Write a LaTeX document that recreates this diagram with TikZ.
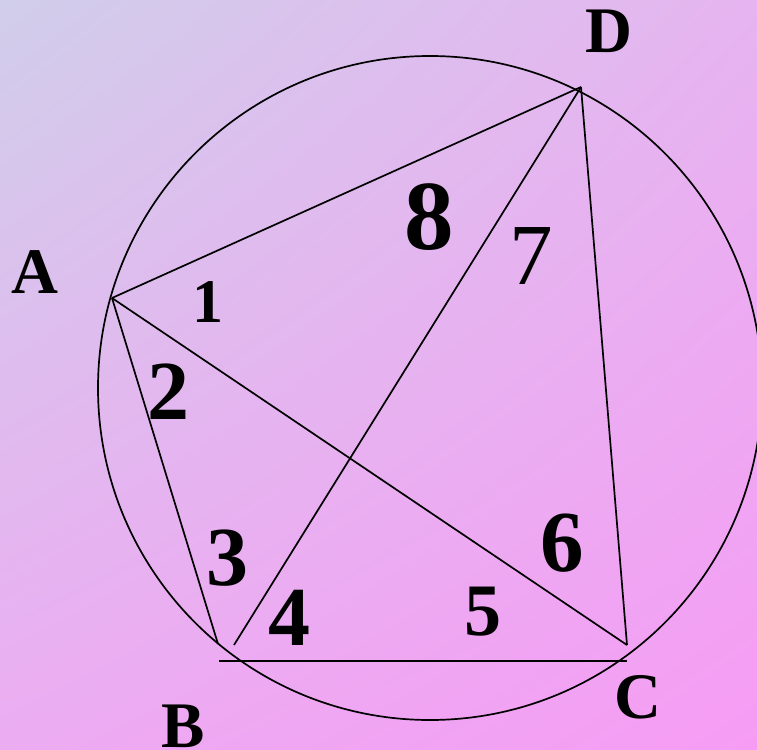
\documentclass[tikz,border=0pt]{standalone}
\usepackage{fontspec}
\setmainfont{Liberation Serif}
\usetikzlibrary{shadings}
\definecolor{bgUL}{RGB}{208,206,234}
\definecolor{bgUR}{RGB}{230,180,240}
\definecolor{bgLL}{RGB}{236,172,242}
\definecolor{bgLR}{RGB}{246,156,244}
\begin{document}
\begin{tikzpicture}[x=1pt,y=-1pt,
  edge/.style={line width=1.7pt, black},
  ptlabel/.style={font=\bfseries\fontsize{65}{65}\selectfont, inner sep=0pt},
  num/.style={font=\bfseries\fontsize{#1}{#1}\selectfont, inner sep=0pt},
  numreg/.style={font=\fontsize{#1}{#1}\selectfont, inner sep=0pt}]
\useasboundingbox (0,0) rectangle (757,749);
\shade[upper left=bgUL, upper right=bgUR, lower left=bgLL, lower right=bgLR] (0,0) rectangle (757,749);
% circle
\coordinate (O) at (430,388);
\draw[edge] (O) circle[radius=332pt];
% vertices
\coordinate (A) at (112,298);
\coordinate (D) at (581,87);
\coordinate (C) at (627,645);
\coordinate (B) at (218,644);
\coordinate (Bd) at (234,645);
\coordinate (H1) at (219,661);
\coordinate (H2) at (627,661);
\draw[edge] (A) -- (D);
\draw[edge] (A) -- (C);
\draw[edge] (A) -- (B);
\draw[edge] (D) -- (Bd);
\draw[edge] (D) -- (C);
\draw[edge] (H1) -- (H2);
% point labels
\node[ptlabel] (lA) at (35,272) {A};
\node[ptlabel] (lB) at (183,726) {B};
\node[ptlabel] (lC) at (638,697) {C};
\node[ptlabel] (lD) at (609,31) {D};
% angle numbers
\node[num=62] (n1) at (208,302) {1};
\node[num=84] (n2) at (168,392) {2};
\node[num=84] (n3) at (227,558) {3};
\node[num=84] (n4) at (289,618) {4};
\node[num=74] (n5) at (483,612) {5};
\node[num=87] (n6) at (562,543) {6};
\node[numreg=87] (n7) at (531,256) {7};
\node[num=99] (n8) at (429,217) {8};
\end{tikzpicture}
\end{document}
